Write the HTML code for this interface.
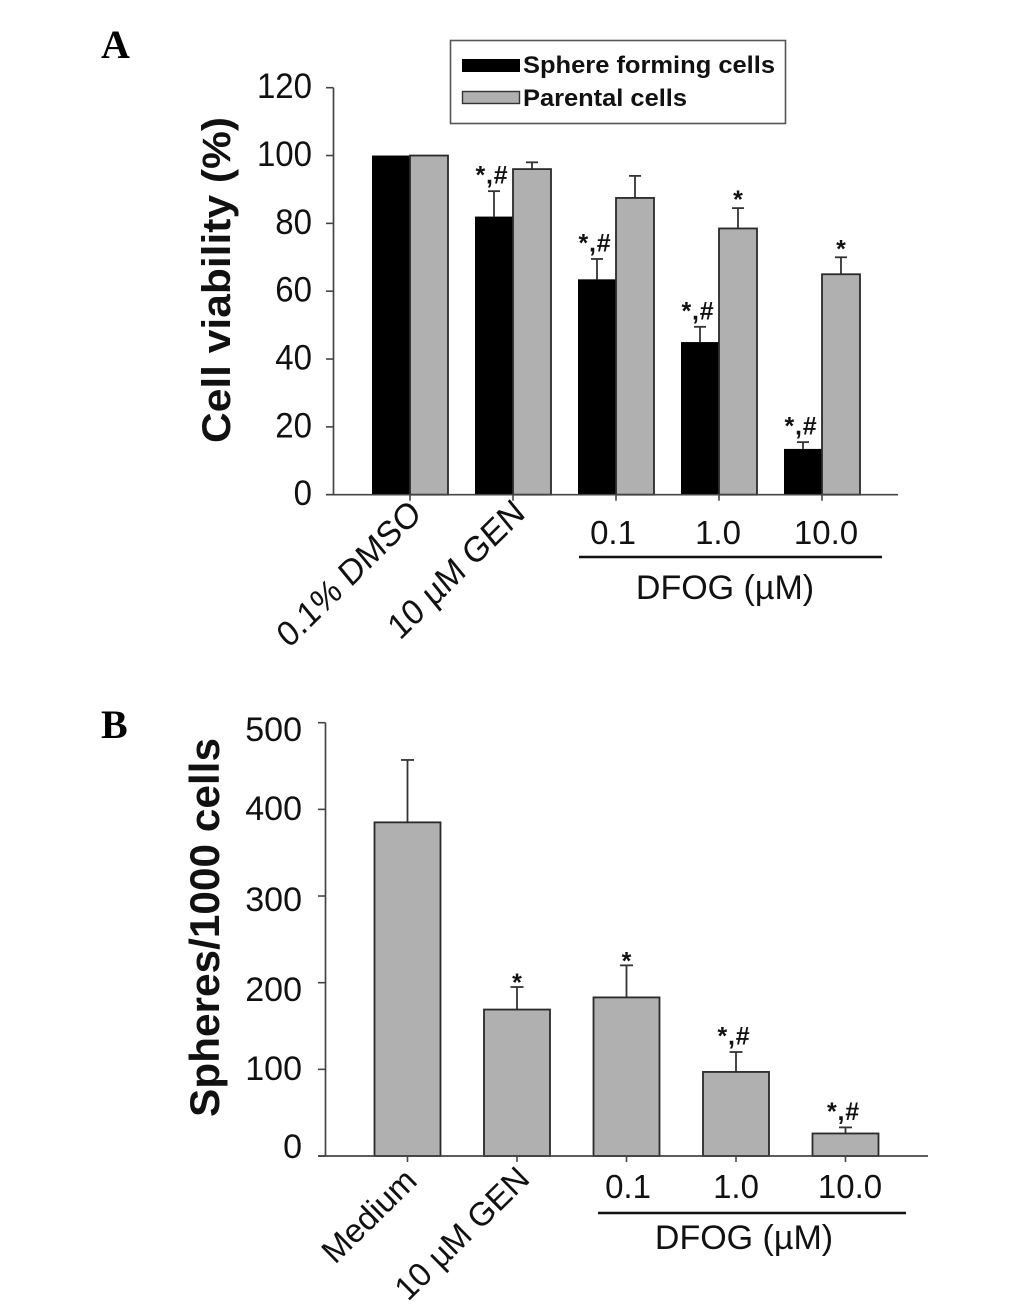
<!DOCTYPE html>
<html lang="en">
<head>
<meta charset="utf-8">
<title>Cell viability and sphere formation</title>
<style>
html,body{margin:0;padding:0;background:#fff;}
svg{display:block;}
text{font-family:"Liberation Sans",sans-serif;fill:#111;}
.b{font-weight:bold;}
.panel{font-family:"Liberation Serif",serif;font-weight:bold;font-size:40px;fill:#000;}
.tick{font-size:33px;}
.tickb{font-size:34px;}
</style>
</head>
<body>
<svg id="figure" xmlns="http://www.w3.org/2000/svg" width="1033" height="1309" viewBox="0 0 1033 1309">
  <rect x="0" y="0" width="1033" height="1309" fill="#fff"/>
  <text class="panel" x="101" y="58">A</text>
  <text class="panel" x="101" y="738">B</text>

  <text class="b" font-size="40" text-anchor="middle" textLength="326" lengthAdjust="spacingAndGlyphs" transform="translate(230,280) rotate(-90)">Cell viability (%)</text>
  <text class="b" font-size="42" text-anchor="middle" textLength="379" lengthAdjust="spacingAndGlyphs" transform="translate(219,927.5) rotate(-90)">Spheres/1000 cells</text>

  <g>
    <rect x="450.5" y="40.5" width="335" height="83" fill="#fff" stroke="#555" stroke-width="1.6"/>
    <rect x="462" y="59" width="58" height="13" fill="#000"/>
    <text class="b" x="523" y="73" font-size="24" textLength="252" lengthAdjust="spacingAndGlyphs" fill="#000">Sphere forming cells</text>
    <rect x="462.5" y="91.5" width="57" height="12" fill="#b0b0b0" stroke="#333" stroke-width="1.4"/>
    <text class="b" x="523" y="106" font-size="24" textLength="164" lengthAdjust="spacingAndGlyphs" fill="#000">Parental cells</text>
  </g>

  <text class="tick" style="font-size:32.5px" transform="translate(289,649) scale(1,1.1) rotate(-42)">0.1% DMSO</text>
  <text class="tick" style="font-size:32.5px" transform="translate(400,641) scale(1,1.1) rotate(-42)">10 µM GEN</text>
  <text class="tick" x="613" y="544" text-anchor="middle">0.1</text>
  <text class="tick" x="718" y="544" text-anchor="middle">1.0</text>
  <text class="tick" x="826" y="544" text-anchor="middle">10.0</text>
  <line x1="579" y1="557" x2="882" y2="557" stroke="#111" stroke-width="2.5"/>
  <text class="tick" x="725" y="599" text-anchor="middle" style="font-size:34px">DFOG (µM)</text>

  <text class="tickb" x="302" y="741" text-anchor="end">500</text>
  <text class="tickb" x="302" y="820" text-anchor="end">400</text>
  <text class="tickb" x="302" y="911" text-anchor="end">300</text>
  <text class="tickb" x="302" y="1001" text-anchor="end">200</text>
  <text class="tickb" x="302" y="1080" text-anchor="end">100</text>
  <text class="tickb" x="302" y="1158" text-anchor="end">0</text>

  <text class="tick" transform="translate(335,1265) rotate(-44.5)">Medium</text>
  <text class="tick" transform="translate(408,1302) rotate(-44.5)">10 µM GEN</text>
  <text class="tick" x="628" y="1198" text-anchor="middle">0.1</text>
  <text class="tick" x="736" y="1198" text-anchor="middle">1.0</text>
  <text class="tick" x="850" y="1198" text-anchor="middle">10.0</text>
  <line x1="598" y1="1213" x2="906" y2="1213" stroke="#111" stroke-width="2.5"/>
  <text class="tick" x="744" y="1249" text-anchor="middle" style="font-size:34px">DFOG (µM)</text>

  <g id="chart-a"></g>
  <g id="chart-b"></g>
</svg>
<script>
// Chart A data
const categoriesA = ['0.1% DMSO', '10 µM GEN', '0.1', '1.0', '10.0'];
const sphereValues = [100, 82, 63.5, 45, 13.5];
const sphereErrors = [0, 7.5, 6, 4.5, 2];
const parentalValues = [100, 96, 87.5, 78.5, 65];
const parentalErrors = [0, 2, 6.5, 6, 5];
const sphereMarks = ['', '*,#', '*,#', '*,#', '*,#'];
const parentalMarks = ['', '', '', '*', '*'];
const tickValuesA = [0, 20, 40, 60, 80, 100, 120];
const tickLabelsA = ['0', '20', '40', '60', '80', '100', '120'];

// Chart B data
const categoriesB = ['Medium', '10 µM GEN', '0.1', '1.0', '10.0'];
const sphereCounts = [385, 169, 183, 97, 26];
const sphereCountErrors = [72, 26, 37, 23, 7];
const sphereCountMarks = ['', '*', '*', '*,#', '*,#'];
const tickValuesB = [0, 100, 200, 300, 400, 500];

const SVG_NS = 'http://www.w3.org/2000/svg';
function mk(parent, tag, attrs, content) {
  const el = document.createElementNS(SVG_NS, tag);
  for (const k in attrs) el.setAttribute(k, attrs[k]);
  if (content !== undefined) el.textContent = content;
  parent.appendChild(el);
  return el;
}

// Axis functions
const yA = v => 494.7 - v * (407 / 120);
const xA = i => 410 + 103 * i;
const yB = v => 1156 - v * (433.3 / 500);
const xB = i => 407.5 + 109.5 * i;

const AXIS = '#444';
const EDGE = '#2a2a2a';
const GRAY = '#b0b0b0';

function drawMark(group, label, cx, errTop, starGap, hashGap, slug) {
  if (!label) return;
  const isStar = label === '*';
  const y = isStar ? errTop - starGap : errTop - hashGap;
  const t = mk(group, 'text', {x: isStar ? cx : cx - 2, y: y, 'text-anchor': 'middle', 'font-size': 25, 'font-weight': 'bold', 'letter-spacing': isStar ? 0 : 0.8}, label);
  
  
}

function drawError(group, cx, top, base, capHalf, slug) {
  const stem = mk(group, 'line', {x1: cx, x2: cx, y1: base, y2: top, stroke: '#333', 'stroke-width': 1.8});
  
  
  const cap = mk(group, 'line', {x1: cx - capHalf, x2: cx + capHalf, y1: top, y2: top, stroke: '#333', 'stroke-width': 1.8});
  
  
}

// ---- Chart A ----
(function () {
  const g = document.getElementById('chart-a');
  const barW = 38;
  categoriesA.forEach((cat, i) => {
    const cx = xA(i);
    if (sphereErrors[i] > 0) {
      drawError(g, cx - barW / 2, yA(sphereValues[i] + sphereErrors[i]), yA(sphereValues[i]), 6, 'sphere-error-' + i);
    }
    if (parentalErrors[i] > 0) {
      drawError(g, cx + barW / 2, yA(parentalValues[i] + parentalErrors[i]), yA(parentalValues[i]), 6, 'parental-error-' + i);
    }
    const black = mk(g, 'rect', {x: cx - barW, y: yA(sphereValues[i]), width: barW, height: yA(0) - yA(sphereValues[i]), fill: '#000'});
    
    
    const gray = mk(g, 'rect', {x: cx, y: yA(parentalValues[i]), width: barW, height: yA(0) - yA(parentalValues[i]), fill: GRAY, stroke: EDGE, 'stroke-width': 1.8});
    
    
    drawMark(g, sphereMarks[i], cx - barW / 2, yA(sphereValues[i] + sphereErrors[i]), 0, 7.5, 'sphere-significance-' + i);
    drawMark(g, parentalMarks[i], cx + barW / 2, yA(parentalValues[i] + parentalErrors[i]), 0, 7.5, 'parental-significance-' + i);
    const tick = mk(g, 'line', {x1: cx, x2: cx, y1: yA(0), y2: yA(0) + 6, stroke: AXIS, 'stroke-width': 1.6});
    
    
  });
  const yAxis = mk(g, 'line', {x1: 333.5, x2: 333.5, y1: yA(120), y2: yA(0), stroke: AXIS, 'stroke-width': 1.7});
  
  
  const xAxis = mk(g, 'line', {x1: 326, x2: 898, y1: yA(0), y2: yA(0), stroke: AXIS, 'stroke-width': 1.7});
  
  
  tickValuesA.forEach((v, i) => {
    const tick = mk(g, 'line', {x1: 326, x2: 333.5, y1: yA(v), y2: yA(v), stroke: AXIS, 'stroke-width': 1.6});
    
    
    const label = mk(g, 'text', {transform: 'translate(312,' + (yA(v) + 10.5) + ') scale(1,1.08)', 'text-anchor': 'end', 'font-size': 33}, tickLabelsA[i]);
    
    
  });
})();

// ---- Chart B ----
(function () {
  const g = document.getElementById('chart-b');
  const barW = 66;
  categoriesB.forEach((cat, i) => {
    const cx = xB(i);
    drawError(g, cx, yB(sphereCounts[i] + sphereCountErrors[i]), yB(sphereCounts[i]), 6.5, 'count-error-' + i);
    const bar = mk(g, 'rect', {x: cx - barW / 2, y: yB(sphereCounts[i]), width: barW, height: yB(0) - yB(sphereCounts[i]), fill: GRAY, stroke: EDGE, 'stroke-width': 1.8});
    
    
    drawMark(g, sphereCountMarks[i], cx, yB(sphereCounts[i] + sphereCountErrors[i]), -4, 7.5, 'count-significance-' + i);
    const tick = mk(g, 'line', {x1: cx, x2: cx, y1: yB(0), y2: yB(0) + 6, stroke: AXIS, 'stroke-width': 1.6});
    
    
  });
  const yAxis = mk(g, 'line', {x1: 325.5, x2: 325.5, y1: yB(500), y2: yB(0), stroke: AXIS, 'stroke-width': 1.7});
  
  
  const xAxis = mk(g, 'line', {x1: 318, x2: 928, y1: yB(0), y2: yB(0), stroke: AXIS, 'stroke-width': 1.7});
  
  
  tickValuesB.forEach(v => {
    const tick = mk(g, 'line', {x1: 318, x2: 325.5, y1: yB(v), y2: yB(v), stroke: AXIS, 'stroke-width': 1.6});
    
    
  });
})();
</script>
</body>
</html>
